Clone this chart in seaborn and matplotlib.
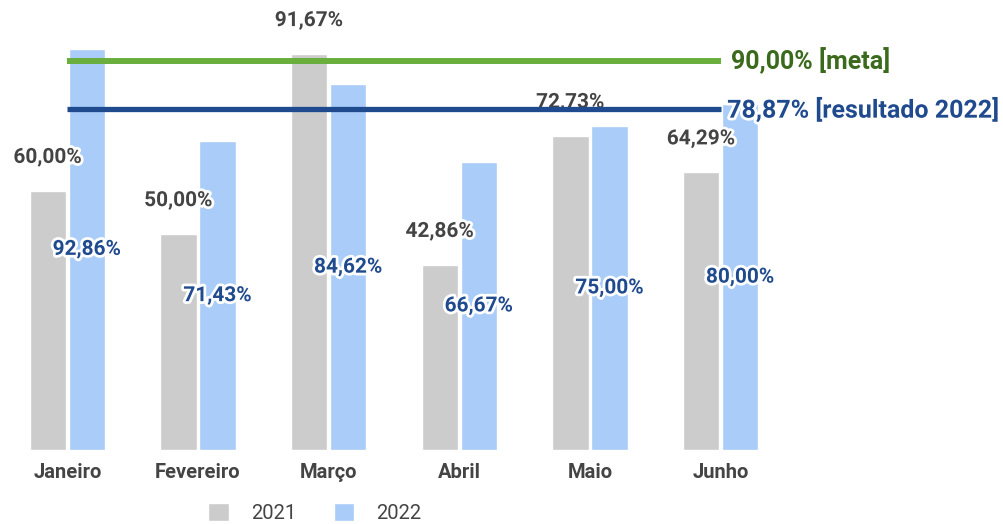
import pandas as pd
import matplotlib.pyplot as plt
import matplotlib.patheffects as pe
import seaborn as sns

# ------------------ Dados ------------------
meses = ["Janeiro", "Fevereiro", "Março", "Abril", "Maio", "Junho"]
valores_2021 = [60.00, 50.00, 91.67, 42.86, 72.73, 64.29]
valores_2022 = [92.86, 71.43, 84.62, 66.67, 75.00, 80.00]
anos = ["2021", "2022"]
meta = 90.00
resultado_2022 = 78.87

cinza = "#cccccc"
azul_claro = "#a9cdf8"
verde = "#6aae3e"
verde_texto = "#3b6a1c"
azul_escuro = "#1f4a8e"
texto_cinza = "#444444"

df = pd.DataFrame({
    "Mes": meses * 2,
    "Ano": [anos[0]] * len(meses) + [anos[1]] * len(meses),
    "Valor": valores_2021 + valores_2022,
})

sns.set_style("white")
plt.rcParams["font.family"] = ["Roboto", "DejaVu Sans"]

fig = plt.figure(figsize=(10.04, 5.24), dpi=100)
ax = fig.add_axes([2 / 1004, 74 / 524, 784 / 1004, 432 / 524])

sns.barplot(data=df, x="Mes", y="Valor", hue="Ano", order=meses, hue_order=anos,
            palette=[cinza, azul_claro], width=0.6, gap=0.07, saturation=1,
            legend=True, ax=ax)

contorno = [pe.withStroke(linewidth=4, foreground="white")]

# Rótulos 2021 acima das barras
for barra, v in zip(ax.containers[0], valores_2021):
    x = barra.get_x() + barra.get_width() / 2
    ax.annotate(f"{v:.2f}%".replace(".", ","), (x, v), xytext=(0, 24),
                textcoords="offset points", ha="center", va="center",
                fontsize=15, fontweight="bold", color=texto_cinza,
                path_effects=contorno, zorder=5)

# Rótulos 2022 no meio das barras
for barra, v in zip(ax.containers[1], valores_2022):
    x = barra.get_x() + barra.get_width() / 2
    ax.text(x, v / 2, f"{v:.2f}%".replace(".", ","), ha="center", va="center",
            fontsize=15, fontweight="bold", color=azul_escuro,
            path_effects=contorno, zorder=5)

# Linhas de meta e resultado
ax.plot([0, 5], [meta, meta], color=verde, linewidth=4.3, zorder=6, solid_capstyle="butt")
ax.plot([0, 5], [resultado_2022, resultado_2022], color=azul_escuro, linewidth=3.8,
        zorder=6, solid_capstyle="butt")
ax.text(5.08, meta, f"{meta:.2f}% [meta]".replace(".", ","), ha="left", va="center",
        fontsize=18, fontweight="bold", color=verde_texto, clip_on=False, zorder=7)
ax.text(5.05, resultado_2022, f"{resultado_2022:.2f}% [resultado 2022]".replace(".", ","),
        ha="left", va="center", fontsize=18, fontweight="bold", color=azul_escuro,
        clip_on=False, zorder=7, path_effects=contorno)

ax.set_xlim(-0.5, 5.5)
ax.set_ylim(0, 100)
ax.set_xlabel("")
ax.set_ylabel("")
ax.set_yticks([])
ax.tick_params(axis="x", length=0, pad=9)
for rotulo in ax.get_xticklabels():
    rotulo.set_fontweight("bold")
    rotulo.set_fontsize(14.5)
    rotulo.set_color(texto_cinza)
sns.despine(ax=ax, left=True, bottom=True)

ax.legend(loc="center", bbox_to_anchor=(315 / 1004, 11 / 524),
          bbox_transform=fig.transFigure, ncol=2, frameon=False, fontsize=14.5,
          handlelength=1.0, handleheight=1.0, handletextpad=1.1, columnspacing=1.9,
          labelcolor=texto_cinza)

fig.savefig("out.png", dpi=100)
